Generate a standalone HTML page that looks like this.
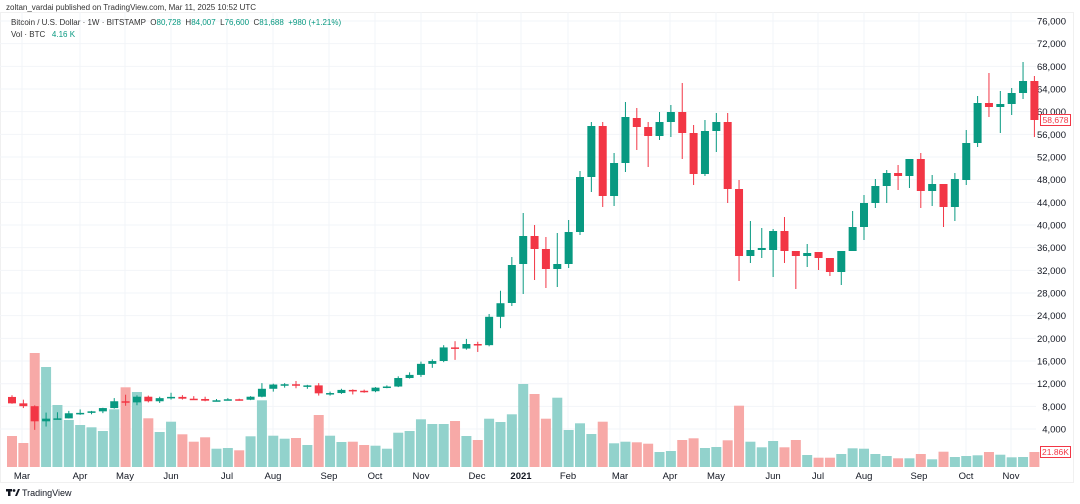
<!DOCTYPE html>
<html><head><meta charset="utf-8"><style>
html,body{margin:0;padding:0;background:#fff;width:1080px;height:504px;overflow:hidden}
svg text{font-family:"Liberation Sans",sans-serif;white-space:pre}
</style></head><body>
<svg id="c" width="1080" height="504" xmlns="http://www.w3.org/2000/svg"></svg>
<script>
const s=document.getElementById('c');let h='';
const Y=p=>21+(76-p)*5.667;
const X=i=>12+i*11.36;
h+='<rect x="0.5" y="12.5" width="1073" height="470" fill="none" stroke="#f0f0f0"/>';
for(let p=4;p<=76;p+=4){const y=Y(p);h+=`<line x1="0" x2="1036" y1="${y}" y2="${y}" stroke="#f2f4f8"/>`;
h+=`<text x="1066" y="${y+3.5}" font-size="9.5" fill="#131722" text-anchor="end">${p},000</text>`;}
const m=[["Mar",22],["Apr",80],["May",125],["Jun",171],["Jul",227],["Aug",273],["Sep",329],["Oct",375],["Nov",421],["Dec",477],["2021",521],["Feb",568],["Mar",620],["Apr",670],["May",716],["Jun",773],["Jul",818],["Aug",864],["Sep",919],["Oct",966],["Nov",1011]];
m.forEach(([t,x])=>{h+=`<line x1="${x}" x2="${x}" y1="12" y2="467" stroke="#f2f4f8"/>`;
h+=`<text x="${x}" y="479" font-size="9.5" fill="#131722" text-anchor="middle"${t=="2021"?' font-weight="bold"':''}>${t}</text>`;});
const P=[[9.66,9.97,8.45,8.53],[8.53,9.18,7.7,8.03],[8.03,8.18,3.85,5.36],[5.36,6.9,4.44,5.83],[5.83,6.96,5.7,5.88],[5.88,7.2,5.86,6.78],[6.78,7.46,6.5,6.85],[6.85,7.2,6.6,7.12],[7.12,7.75,6.8,7.7],[7.7,9.46,7.6,8.9],[8.9,10.06,8.1,8.7],[8.7,9.95,8.2,9.7],[9.7,9.9,8.7,8.9],[8.9,9.7,8.6,9.45],[9.45,10.4,9.2,9.67],[9.67,9.98,9.2,9.35],[9.35,9.8,9.25,9.3],[9.3,9.7,8.9,9.0],[9.0,9.3,8.9,9.07],[9.07,9.45,9.05,9.25],[9.25,9.35,9.0,9.17],[9.17,9.8,9.1,9.7],[9.7,12.1,9.6,11.1],[11.1,12.0,10.6,11.85],[11.85,12.1,11.3,11.9],[11.9,12.47,11.2,11.65],[11.65,11.8,11.1,11.7],[11.7,12.1,9.9,10.3],[10.3,10.6,9.9,10.35],[10.35,11.1,10.2,10.9],[10.9,11.0,10.1,10.75],[10.75,10.95,10.4,10.67],[10.67,11.4,10.5,11.3],[11.3,11.7,11.2,11.5],[11.5,13.3,11.4,13.0],[13.0,14.0,12.9,13.55],[13.55,15.9,13.2,15.5],[15.5,16.3,14.8,16.0],[16.0,18.8,15.8,18.4],[18.4,19.5,16.2,18.2],[18.2,19.9,18.0,19.0],[19.0,19.4,17.6,18.8],[18.8,24.3,18.6,23.8],[23.8,28.4,21.8,26.2]].map(a=>[Y(a[0]),Y(a[1]),Y(a[2]),Y(a[3])]);
const Q=[[303,257,306,265],[264,213,294,236],[236,225,280,249],[249,237,288,269],[269,233,287,264],[264,220,268,232],[232,171,235,177],[177,122,192,126],[126,122,207,196],[196,153,206,163],[163,102,172,117],[118,108,150,127],[127,122,167,136],[136,112,140,122],[122,105,137,112],[112,83,159,133],[133,125,185,174],[174,120,176,131],[131,113,152,122],[122,113,203,189],[189,180,281,256],[256,221,263,250],[250,228,258,248],[250,229,277,231],[231,217,263,251],[251,251,289,256],[256,244,267,253],[252,252,270,258],[258,258,276,272],[272,251,285,251],[251,211,251,227],[227,195,240,203],[203,179,208,186],[186,170,203,173],[173,165,190,176],[176,159,188,159],[159,153,208,191],[191,175,206,184],[184,184,227,207],[207,173,221,179],[180,130,185,143],[143,96,147,103],[103,73,117,107],[107,91,133,104],[104,88,115,93],[93,62,99,81],[81,76,137,120]];
const C=P.concat(Q);
const V=[436,443,353,367,405,420,425,427.3,431,409.3,387.3,392,418.3,432,421.7,434.3,441.7,437.3,448.7,448,450.3,436.3,400.3,435.7,438.7,438,445,415,435.7,442,441.7,445,445.7,448.7,432.7,431,419.3,424,424,421,436,440,418.7,422,414.3,384,394,418.7,397.7,430,423.3,434,421.7,443.3,441.7,442.3,443.7,452,451,440,438.3,448,447,440.3,405.7,441.7,447.3,441,447.3,440,455,457.7,457.7,454,448.3,448.7,454,456,458.3,458.3,454,459.3,451.7,457,456,455.3,452,454.7,457.3,457,452];
C.forEach((c,i)=>{const up=c[3]<c[0];const x=X(i);h+=`<rect x="${x-5}" y="${V[i]}" width="10" height="${467-V[i]}" fill="${up?'#92d2cc':'#f7a9a7'}"/>`;});
C.forEach((c,i)=>{const up=c[3]<c[0];const col=up?'#089981':'#f23645';const x=X(i);
const t=Math.min(c[0],c[3]),b=Math.max(c[0],c[3]);
h+=`<line x1="${x}" x2="${x}" y1="${Math.min(c[1],t)}" y2="${Math.max(c[2],b)}" stroke="${col}" stroke-width="1"/>`;
h+=`<rect x="${x-4}" y="${t}" width="8" height="${Math.max(b-t,1.5)}" fill="${col}"/>`;});
h+='<rect x="1040.5" y="114.5" width="30" height="11" fill="#fff" stroke="#f23645"/><text x="1055.5" y="123" font-size="8.5" fill="#f23645" text-anchor="middle">58,678</text>';
h+='<rect x="1040.5" y="446.5" width="30" height="11" fill="#fff" stroke="#f23645"/><text x="1055.5" y="455" font-size="8.5" fill="#f23645" text-anchor="middle">21.86K</text>';
h+='<text x="6" y="10" font-size="8" fill="#333">zoltan_vardai published on TradingView.com, Mar 11, 2025 10:52 UTC</text>';
h+='<text x="11" y="25" font-size="8" fill="#333">Bitcoin / U.S. Dollar · 1W · BITSTAMP  O<tspan fill="#089981">80,728</tspan>  H<tspan fill="#089981">84,007</tspan>  L<tspan fill="#089981">76,600</tspan>  C<tspan fill="#089981">81,688  +980 (+1.21%)</tspan></text>';
h+='<text x="11" y="37" font-size="8" fill="#333">Vol · BTC   <tspan fill="#089981">4.16 K</tspan></text>';
h+='<g fill="#131722"><rect x="6" y="489" width="6" height="2.5"/><rect x="8" y="489" width="2.5" height="7"/><circle cx="14" cy="490.5" r="1.4"/><polygon points="15,496 18,489 20,489 17,496"/></g><text x="22" y="496" font-size="9" fill="#131722">TradingView</text>';
s.innerHTML=h;
</script>
</body></html>
